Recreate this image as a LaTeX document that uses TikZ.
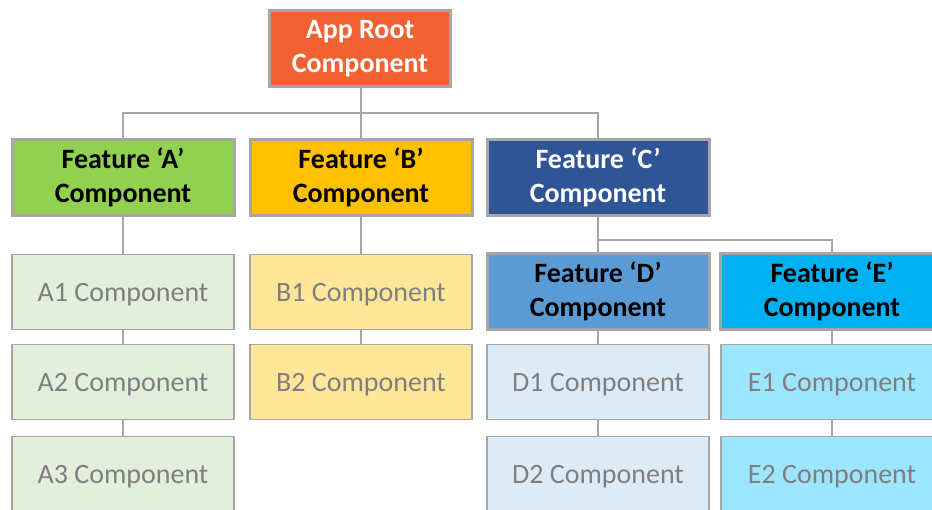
\documentclass[tikz,border=0pt]{standalone}
\usepackage{fontspec}
\setmainfont{Carlito}
\definecolor{rootfill}{HTML}{F26132}
\definecolor{featA}{HTML}{92D050}
\definecolor{featB}{HTML}{FFC000}
\definecolor{featC}{HTML}{2F5597}
\definecolor{featD}{HTML}{5B9BD5}
\definecolor{featE}{HTML}{00B0F0}
\definecolor{subA}{HTML}{E2EFDA}
\definecolor{subB}{HTML}{FFE699}
\definecolor{subD}{HTML}{DDEBF7}
\definecolor{subE}{HTML}{9DE6FF}
\definecolor{edgegray}{HTML}{A6A6A6}
\definecolor{subtext}{HTML}{7F7F7F}
\tikzset{
  featbox/.style={draw=edgegray, line width=3pt, minimum width=222pt, minimum height=76pt,
    align=center, inner sep=0pt, font=\fontsize{28}{34}\selectfont\bfseries},
  subbox/.style={draw=edgegray, line width=1.8pt, minimum width=222pt, minimum height=75pt,
    align=center, inner sep=0pt, text depth=0pt, text=subtext, font=\fontsize{28}{34}\selectfont},
  link/.style={draw=edgegray, line width=1.8pt}
}
\begin{document}
\begin{tikzpicture}[x=1pt,y=-1pt]
\clip (0,0) rectangle (932,509);
\fill[white] (0,0) rectangle (932,509);
% hierarchy boxes
\node[featbox, fill=rootfill, text=white, minimum width=181pt, minimum height=76pt] (root) at (360,48.5) {App Root\\Component};
\node[featbox, fill=featA] (fa) at (123,177) {Feature ‘A’\\Component};
\node[featbox, fill=featB] (fb) at (361,177) {Feature ‘B’\\Component};
\node[featbox, fill=featC, text=white] (fc) at (598,177) {Feature ‘C’\\Component};
\node[featbox, fill=featD] (fd) at (598,291.5) {Feature ‘D’\\Component};
\node[featbox, fill=featE, minimum width=224pt] (fe) at (832,291.5) {Feature ‘E’\\Component};
% leaf components
\node[subbox, fill=subA] (a1) at (123,292) {A1 Component};
\node[subbox, fill=subA] (a2) at (123,382) {A2 Component};
\node[subbox, fill=subA] (a3) at (123,474) {A3 Component};
\node[subbox, fill=subB] (b1) at (361,292) {B1 Component};
\node[subbox, fill=subB] (b2) at (361,382) {B2 Component};
\node[subbox, fill=subD] (d1) at (598,382) {D1 Component};
\node[subbox, fill=subD] (d2) at (598,474) {D2 Component};
\node[subbox, fill=subE] (e1) at (832,382) {E1 Component};
\node[subbox, fill=subE] (e2) at (832,474) {E2 Component};
% connectors
\coordinate (j1) at (361,113);
\coordinate (j2) at (598,240);
\draw[link] (root.south -| j1) -- (j1);
\draw[link] (fa.north) |- (j1) -| (fc.north);
\draw[link] (j1) -- (fb.north);
\draw[link] (fc.south) -- (j2);
\draw[link] (fd.north) |- (j2) -| (fe.north);
\draw[link] (fa.south) -- (a1.north);
\draw[link] (a1.south) -- (a2.north);
\draw[link] (a2.south) -- (a3.north);
\draw[link] (fb.south) -- (b1.north);
\draw[link] (b1.south) -- (b2.north);
\draw[link] (fd.south) -- (d1.north);
\draw[link] (d1.south) -- (d2.north);
\draw[link] (fe.south) -- (e1.north);
\draw[link] (e1.south) -- (e2.north);
\end{tikzpicture}
\end{document}
